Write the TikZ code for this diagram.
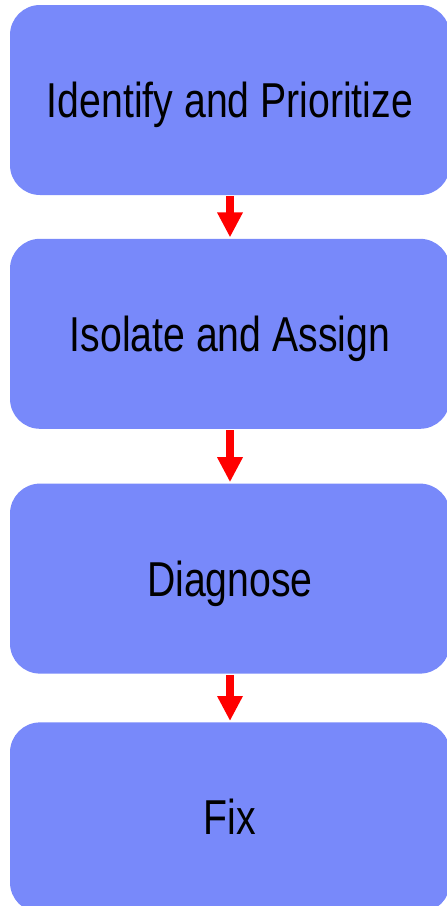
\documentclass[tikz,border=0pt]{standalone}
\usepackage{fontspec}
\setmainfont[FakeStretch=0.8]{Liberation Sans}
\usepackage{tikz}
\usetikzlibrary{positioning, arrows.meta}
\definecolor{stepblue}{RGB}{120,137,250}
\definecolor{arrowred}{RGB}{255,0,0}

\begin{document}
\begin{tikzpicture}[x=1pt, y=1pt, thick]
    \tikzset{
        stepbox/.style={fill=stepblue, rounded corners=30pt, inner sep=0pt, minimum width=440pt, minimum height=190pt, text height=35pt, text depth=0pt, align=center, font=\fontsize{49}{58}\selectfont},
        flow/.style={arrowred, line width=8pt, -{Triangle[width=24pt, length=25pt]}, shorten <=1pt, shorten >=1pt}
    }
    \useasboundingbox (0,0) rectangle (447,-906);
    % Nodes
    \node[stepbox] (identify) at (230,-100) {Identify and Prioritize};
    \node[stepbox, below=43pt of identify] (isolate) {Isolate and Assign};
    \node[stepbox, below=54pt of isolate] (diagnose) {Diagnose};
    \node[stepbox, below=48pt of diagnose] (fix) {Fix};

    % Edges
    \draw[flow] (identify) -- (isolate);
    \draw[flow] (isolate) -- (diagnose);
    \draw[flow] (diagnose) -- (fix);
\end{tikzpicture}
\end{document}
